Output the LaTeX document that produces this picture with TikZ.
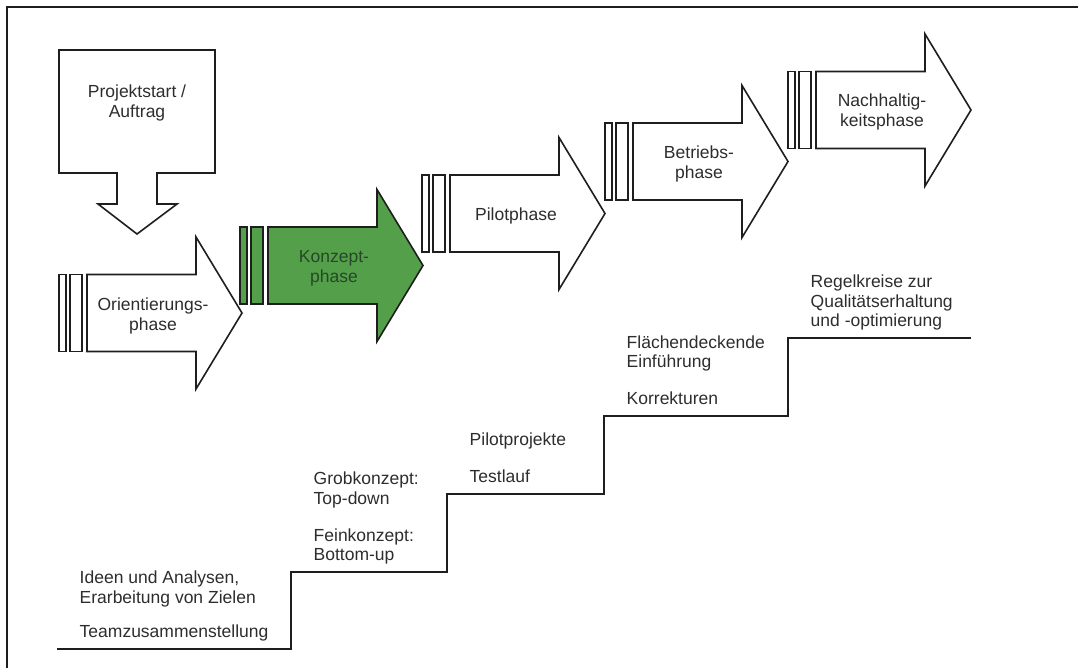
\documentclass[tikz,border=0pt]{standalone}
\usepackage{fontspec}
\setmainfont{Liberation Sans}
\usepackage{xcolor}
\usepackage{tikz}

\definecolor{konzeptgruen}{RGB}{84,160,74}
\definecolor{konzepttext}{RGB}{40,70,40}
\definecolor{linie}{RGB}{30,30,30}
\definecolor{textgrau}{RGB}{45,45,45}

% #1 Name, #2 x der Balken, #3 y Mitte, #4 Stil, #5 Text
\newcommand{\phasenpfeil}[5]{%
  \draw[phase, #4] (#2,#3-38.5) rectangle ++(7,77);
  \draw[phase, #4] (#2+11,#3-38.5) rectangle ++(12,77);
  \draw[phase, #4] (#2+28,#3-38.5) -- ++(109,0) -- ++(0,-37.5) -- ++(46,76)
      -- ++(-46,76) -- ++(0,-37.5) -- ++(-109,0) -- cycle;
  \node[phasentext, #4, fill=none] (#1) at (#2+94,#3+3) {\strut#5\strut};
}

\begin{document}
\begin{tikzpicture}[x=1pt, y=-1pt,
    phase/.style={draw=linie, line width=1.6pt, line join=miter},
    pfeilweiss/.style={fill=white},
    pfeilgruen/.style={fill=konzeptgruen, text=konzepttext},
    phasentext/.style={font=\fontsize{17.5}{20}\selectfont, align=center, inner sep=0pt, text=textgrau},
    stufe/.style={font=\fontsize{17.5}{19.5}\selectfont, align=left, inner sep=0pt,
        anchor=south west, xshift=22.5pt, yshift=5pt, text=textgrau},
    treppe/.style={draw=linie, line width=2pt},
    rahmen/.style={draw=linie, line width=1.4pt}]
    \useasboundingbox (0,0) rectangle (1078,668);

    % Rahmen
    \draw[rahmen] (7,668) -- (7,7) -- (1078,7);

    % Projektstart (Kasten mit Pfeil nach unten)
    \draw[phase, fill=white] (59,50) -- (215,50) -- (215,173) -- (157,173) -- (157,204)
        -- (177,204) -- (137,234) -- (98,204) -- (117,204) -- (117,173) -- (59,173) -- cycle;
    \node[phasentext] (start) at (137,103.5) {\strut Projektstart /\\Auftrag\strut};

    % Phasen
    \phasenpfeil{orient}{59}{313}{pfeilweiss}{Orientierungs-\\phase}
    \phasenpfeil{konzept}{240}{265.5}{pfeilgruen}{Konzept-\\phase}
    \phasenpfeil{pilot}{422}{213.5}{pfeilweiss}{Pilotphase}
    \phasenpfeil{betrieb}{605}{161.5}{pfeilweiss}{Betriebs-\\phase}
    \phasenpfeil{nachhalt}{788}{110}{pfeilweiss}{Nachhaltig-\\keitsphase}

    % Treppe
    \coordinate (s1) at (57,649);
    \coordinate (s2) at (291,572);
    \coordinate (s3) at (447,494);
    \coordinate (s4) at (604,416);
    \coordinate (s5) at (788,338);
    \coordinate (s6) at (971,338);
    \draw[treppe] (s1) -| (s2) -| (s3) -| (s4) -| (s5) -- (s6);

    % Stufentexte
    \node[stufe] (ideen) at (s1) {\strut Ideen und Analysen,\\Erarbeitung von Zielen\\[15pt]Teamzusammenstellung\strut};
    \node[stufe] (grob) at (s2) {\strut Grobkonzept:\\Top-down\\[17.5pt]Feinkonzept:\\Bottom-up\strut};
    \node[stufe] (test) at (s3) {\strut Pilotprojekte\\[17.5pt]Testlauf\strut};
    \node[stufe] (flaeche) at (s4) {\strut Flächendeckende\\Einführung\\[17.5pt]Korrekturen\strut};
    \node[stufe] (regel) at (s5) {\strut Regelkreise zur\\Qualitätserhaltung\\und -optimierung\strut};
\end{tikzpicture}
\end{document}
